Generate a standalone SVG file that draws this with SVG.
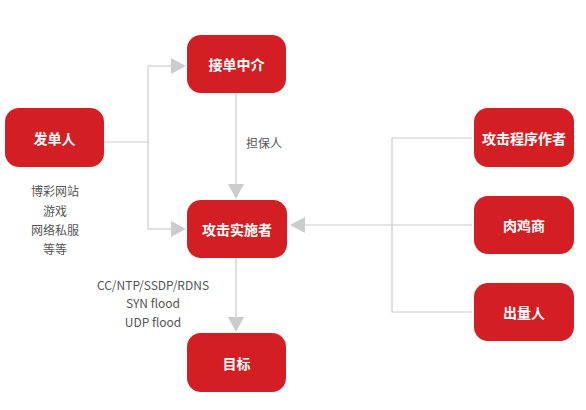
<svg xmlns="http://www.w3.org/2000/svg" width="586" height="410" viewBox="0 0 586 410">
<style>
.n rect{fill:#d31f24;}
.n text{fill:#fff;font-family:"Noto Sans CJK SC","Noto Sans",sans-serif;font-size:14px;font-weight:bold;text-anchor:middle;dominant-baseline:central;}
.c{fill:none;stroke:#cccccc;stroke-width:1.2;}
.lbl{fill:#555;font-family:"Noto Sans CJK SC","Noto Sans",sans-serif;font-size:12px;text-anchor:middle;dominant-baseline:central;}
.ah{fill:#cccccc;}
</style>
<g id="connectors">
<polyline class="c" points="104,142 148,142"/>
<polyline class="c" points="148,66 148,229"/>
<polyline class="c" points="148,66 171,66"/>
<polygon class="ah" points="171,58 186,66 171,74"/>
<polyline class="c" points="148,229 171,229"/>
<polygon class="ah" points="171,221 186,229 171,237"/>
<polyline class="c" points="236,93 236,184"/>
<polygon class="ah" points="228,184 236,199 244,184"/>
<polyline class="c" points="236,258 236,317"/>
<polygon class="ah" points="228,317 236,332 244,317"/>
<polyline class="c" points="472,138 392,138 392,312 472,312"/>
<polyline class="c" points="472,225 305,225"/>
<polygon class="ah" points="305,217 290,225 305,233"/>
</g>
<g id="n-fadanren" class="n"><rect x="5" y="108" width="99" height="59" rx="14"/><text x="54.5" y="137.5">发单人</text></g>
<g id="n-jiedan" class="n"><rect x="187" y="35" width="99" height="58" rx="14"/><text x="236.5" y="64">接单中介</text></g>
<g id="n-gongji" class="n"><rect x="187" y="200" width="100" height="58" rx="14"/><text x="237" y="229">攻击实施者</text></g>
<g id="n-mubiao" class="n"><rect x="187" y="333" width="99" height="59" rx="14"/><text x="236.5" y="362.5">目标</text></g>
<g id="n-zuozhe" class="n"><rect x="474" y="108" width="100" height="59" rx="14"/><text x="524" y="137.5">攻击程序作者</text></g>
<g id="n-roujishang" class="n"><rect x="474" y="196" width="100" height="58" rx="14"/><text x="524" y="225">肉鸡商</text></g>
<g id="n-chuliang" class="n"><rect x="474" y="283" width="100" height="58" rx="14"/><text x="524" y="312">出量人</text></g>
<g id="labels">
<text class="lbl" x="264" y="142">担保人</text>
<text class="lbl" x="55" y="190">博彩网站</text>
<text class="lbl" x="55" y="210">游戏</text>
<text class="lbl" x="55" y="229">网络私服</text>
<text class="lbl" x="55" y="248">等等</text>
<text class="lbl" x="153" y="284">CC/NTP/SSDP/RDNS</text>
<text class="lbl" x="153" y="302">SYN flood</text>
<text class="lbl" x="153" y="321">UDP flood</text>
</g>
</svg>
